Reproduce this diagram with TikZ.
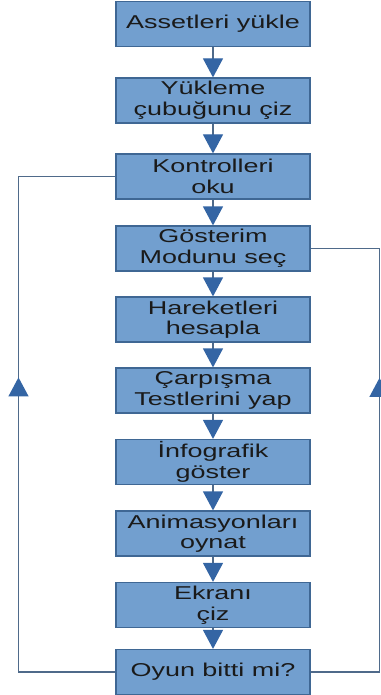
\documentclass[tikz,border=0pt]{standalone}
\usepackage{fontspec}
\newfontfamily\boxfont[FakeStretch=1.45]{Liberation Sans}
\usetikzlibrary{arrows.meta,decorations.markings}
\definecolor{boxfill}{HTML}{729FCF}
\definecolor{boxline}{HTML}{3F6794}
\definecolor{linec}{HTML}{4F6A8A}
\definecolor{tipc}{HTML}{3465A4}
\definecolor{txt}{HTML}{1A1A1A}
\begin{document}
\begin{tikzpicture}[x=1pt,y=-1pt,
  stepbox/.style={draw=boxline,fill=boxfill,line width=1.2pt,minimum width=194pt,minimum height=45pt,
    inner sep=0pt,align=center,text=txt,font=\boxfont\fontsize{18.6}{20.6}\selectfont},
  flow/.style={draw=linec,line width=1.2pt,-{Triangle[width=20pt,length=19pt,fill=tipc,color=tipc]}},
  loop/.style={draw=linec,line width=1.1pt,postaction={decorate},
    decoration={markings,mark=at position #1 with {\arrow[tipc]{Triangle[width=20pt,length=19pt,fill=tipc]}}}}]
\useasboundingbox (0,0) rectangle (380,695);
\node[stepbox] (b1) at (213,24) {Assetleri yükle};
\node[stepbox] (b2) at (213,100.5) {Yükleme\\çubuğunu çiz};
\node[stepbox] (b3) at (213,176.5) {Kontrolleri\\oku};
\node[stepbox] (b4) at (213,248.5) {Gösterim\\Modunu seç};
\node[stepbox] (b5) at (213,319.5) {Hareketleri\\hesapla};
\node[stepbox] (b6) at (213,390.5) {Çarpışma\\Testlerini yap};
\node[stepbox] (b7) at (213,462) {İnfografik\\göster};
\node[stepbox] (b8) at (213,533.5) {Animasyonları\\oynat};
\node[stepbox] (b9) at (213,605) {Ekranı\\çiz};
\node[stepbox] (b10) at (213,672) {Oyun bitti mi?};
\foreach \a/\b in {b1/b2,b2/b3,b3/b4,b4/b5,b5/b6,b6/b7,b7/b8,b8/b9,b9/b10}
  \draw[flow] (\a.south) -- (\b.north);
\coordinate (lc) at (18.5,0);
\coordinate (rc) at (379.5,0);
\draw[loop=391.5pt] (b10.west) -- (b10.west -| lc) -- (b3.west -| lc) -- (b3.west);
\draw[loop=363pt] (b10.east) -- (b10.east -| rc) -- (b4.east -| rc) -- (b4.east);
\end{tikzpicture}
\end{document}
